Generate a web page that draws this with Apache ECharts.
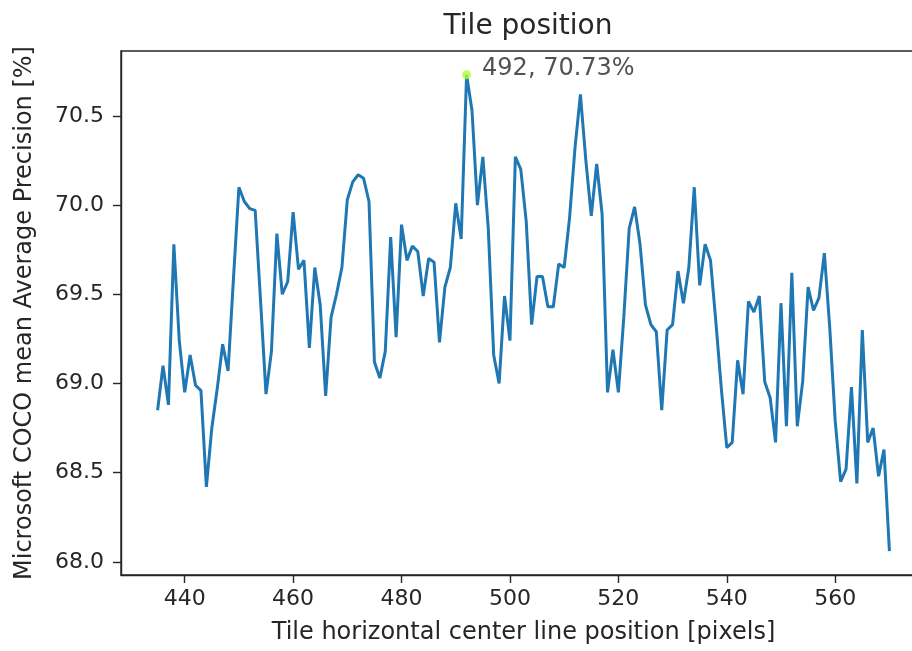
<!DOCTYPE html>
<html><head><meta charset="utf-8">
<script src="https://cdn.jsdelivr.net/npm/echarts@6/dist/echarts.min.js"></script>
<style>html,body{margin:0;padding:0;background:#fff;overflow:hidden}#c{width:912px;height:651px}</style>
</head><body><div id="c"></div>
<script>
const titleText = "Tile position";
const xAxisName = "Tile horizontal center line position [pixels]";
const yAxisName = "Microsoft COCO mean Average Precision [%]";

const tilePositions = [
 435,436,437,438,439,440,441,442,443,444,445,446,447,448,449,
 450,451,452,453,454,455,456,457,458,459,460,461,462,463,464,
 465,466,467,468,469,470,471,472,473,474,475,476,477,478,479,
 480,481,482,483,484,485,486,487,488,489,490,491,492,493,494,
 495,496,497,498,499,500,501,502,503,504,505,506,507,508,509,
 510,511,512,513,514,515,516,517,518,519,520,521,522,523,524,
 525,526,527,528,529,530,531,532,533,534,535,536,537,538,539,
 540,541,542,543,544,545,546,547,548,549,550,551,552,553,554,
 555,556,557,558,559,560,561,562,563,564,565,566,567,568,569,570
];
const mapValues = [
 68.85,69.10,68.88,69.78,69.24,68.95,69.16,68.99,68.96,68.42,68.75,68.97,69.22,69.07,69.59,
 70.10,70.02,69.98,69.97,69.46,68.94,69.18,69.84,69.50,69.57,69.96,69.64,69.69,69.20,69.65,
 69.44,68.93,69.37,69.50,69.65,70.03,70.13,70.17,70.15,70.02,69.12,69.03,69.18,69.82,69.26,
 69.89,69.69,69.77,69.74,69.49,69.70,69.68,69.23,69.54,69.65,70.01,69.81,70.73,70.53,70.00,
 70.27,69.87,69.16,69.00,69.49,69.24,70.27,70.20,69.91,69.33,69.60,69.60,69.43,69.43,69.67,
 69.65,69.93,70.32,70.62,70.25,69.94,70.23,69.95,68.95,69.19,68.95,69.37,69.87,69.99,69.78,
 69.44,69.33,69.29,68.85,69.30,69.33,69.63,69.45,69.65,70.10,69.55,69.78,69.69,69.34,68.97,
 68.64,68.67,69.13,68.94,69.46,69.40,69.49,69.01,68.92,68.67,69.45,68.76,69.62,68.76,69.01,
 69.54,69.41,69.48,69.73,69.31,68.79,68.45,68.52,68.98,68.44,69.30,68.67,68.75,68.48,68.63,68.06
];
const xTickValues = [440,460,480,500,520,540,560];
const yTickValues = [68.0,68.5,69.0,69.5,70.0,70.5];
const peakPosition = 492;
const peakValue = 70.73;

const font = "DejaVu Sans";
const txt = "#262626";
const lineData = tilePositions.map((x, i) => [x, mapValues[i]]);

const chart = echarts.init(document.getElementById('c'), null, {renderer: 'canvas'});
chart.setOption({
  animation: false,
  backgroundColor: '#fff',
  title: {
    text: titleText, left: 523, top: 8, textAlign: 'center',
    textStyle: {fontFamily: font, fontSize: 28, fontWeight: 'normal', color: txt}
  },
  grid: {left: 121, right: -14, top: 51, bottom: 76, outerBoundsMode: 'none', containLabel: false,
    show: true, borderColor: '#262626', borderWidth: 1.4, backgroundColor: 'transparent'},
  xAxis: {
    type: 'value', min: 428.25, max: 576.75,
    name: xAxisName, nameLocation: 'middle', nameGap: 46,
    nameTextStyle: {fontFamily: font, fontSize: 24, color: txt},
    axisLine: {show: true, lineStyle: {color: '#262626', width: 1.4}},
    axisTick: {show: true, inside: false, length: 8, customValues: xTickValues, lineStyle: {color: '#262626', width: 1.4}},
    axisLabel: {customValues: xTickValues, margin: 13, fontFamily: font, fontSize: 22, color: txt,
      formatter: v => String(Math.round(v))},
    splitLine: {show: false}
  },
  yAxis: {
    type: 'value', min: 67.9265, max: 70.8635,
    name: yAxisName, nameLocation: 'middle', nameGap: 84, nameRotate: 90,
    nameTextStyle: {fontFamily: font, fontSize: 24, color: txt},
    axisLine: {show: true, lineStyle: {color: '#262626', width: 1.4}},
    axisTick: {show: true, inside: false, length: 8, customValues: yTickValues, lineStyle: {color: '#262626', width: 1.4}},
    axisLabel: {customValues: yTickValues, margin: 17, fontFamily: font, fontSize: 22, color: txt,
      formatter: v => v.toFixed(1)},
    splitLine: {show: false}
  },
  series: [
    {
      type: 'line', data: lineData, symbol: 'none', smooth: false,
      lineStyle: {color: '#1f77b4', width: 3}, z: 2
    },
    {
      type: 'scatter', data: [[peakPosition, peakValue]], symbol: 'circle', symbolSize: 9,
      itemStyle: {color: '#adff2f'}, z: 3,
      label: {show: true, position: 'right', distance: 11, offset: [0, -6],
        fontFamily: font, fontSize: 24, color: txt,
        formatter: p => p.value[0] + ', ' + p.value[1].toFixed(2) + '%'}
    }
  ]
});
</script></body></html>
